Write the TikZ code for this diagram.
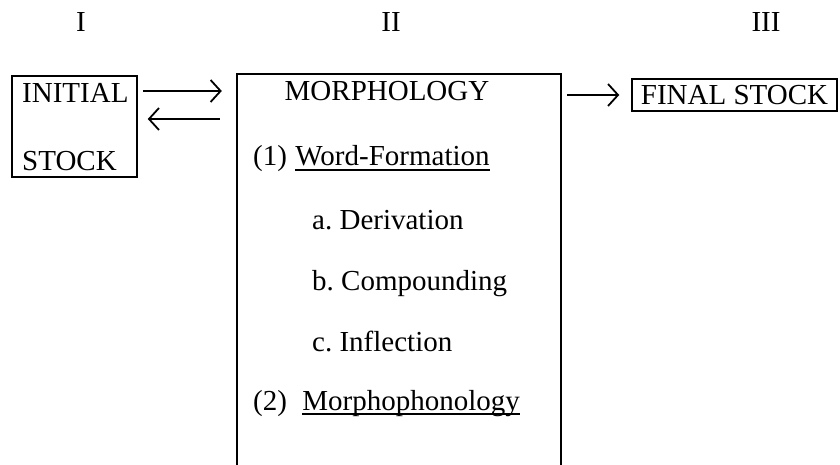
\documentclass[tikz,border=0pt]{standalone}
\usepackage{fontspec}
\setmainfont{Liberation Serif}
\usetikzlibrary{arrows.meta}
\frenchspacing
\begin{document}
\begin{tikzpicture}[x=1pt,y=-1pt,
  txt/.style={inner sep=0pt,font=\fontsize{29}{32}\selectfont},
  frame/.style={draw=black,line width=1.5pt},
  arr/.style={line width=1.6pt,-{Straight Barb[length=10pt,width=22pt,line width=1.8pt]}},
  uline/.style={line width=1.3pt}]
\useasboundingbox (0,0) rectangle (840,465);

% column numerals
\node[txt,anchor=base] (c1) at (81,32) {I};
\node[txt,anchor=base] (c2) at (391,32) {II};
\node[txt,anchor=base] (c3) at (766,32) {III};

% initial stock
\node[frame,minimum width=125pt,minimum height=101pt,inner sep=0pt] (init) at (74.5,126.5) {};
\node[txt,anchor=base west] (ini1) at (22,103) {INITIAL};
\node[txt,anchor=base west] (ini2) at (22,171) {STOCK};

% morphology box, open at the bottom
\node[minimum width=324pt,minimum height=400pt,inner sep=0pt] (morph) at (399,274) {};
\draw[frame] (morph.south west) -- (morph.north west) -- (morph.north east) -- (morph.south east);
\node[txt,anchor=base] (mtitle) at (387,101) {MORPHOLOGY};
\node[txt,anchor=base west] (n1) at (253,166) {(1)};
\node[txt,anchor=base west] (wf) at ([xshift=8pt]n1.base east) {Word-Formation};
\draw[uline] ([yshift=-4pt]wf.base west) -- ([yshift=-4pt]wf.base east);
\node[txt,anchor=base west] (ia) at (312,229) {a. Derivation};
\node[txt,anchor=base west] (ib) at (312,290) {b. Compounding};
\node[txt,anchor=base west] (ic) at (312,351) {c. Inflection};
\node[txt,anchor=base west] (n2) at (253,410) {(2)};
\node[txt,anchor=base west] (mp) at ([xshift=15pt]n2.base east) {Morphophonology};
\draw[uline] ([yshift=-4pt]mp.base west) -- ([yshift=-4pt]mp.base east);

% final stock
\node[frame,txt,minimum width=205pt,minimum height=32pt,inner sep=0pt] (final) at (734.5,95) {FINAL STOCK};

% connectors
\draw[arr,shorten <=5pt,shorten >=15pt] ([yshift=35.5pt]init.east) -- ([yshift=35.5pt]init.east -| morph.west);
\draw[arr,shorten <=17pt,shorten >=10pt] ([yshift=7.5pt]init.east -| morph.west) -- ([yshift=7.5pt]init.east);
\draw[arr,shorten <=6pt,shorten >=12pt] (final.west -| morph.east) -- (final.west);
\end{tikzpicture}
\end{document}
